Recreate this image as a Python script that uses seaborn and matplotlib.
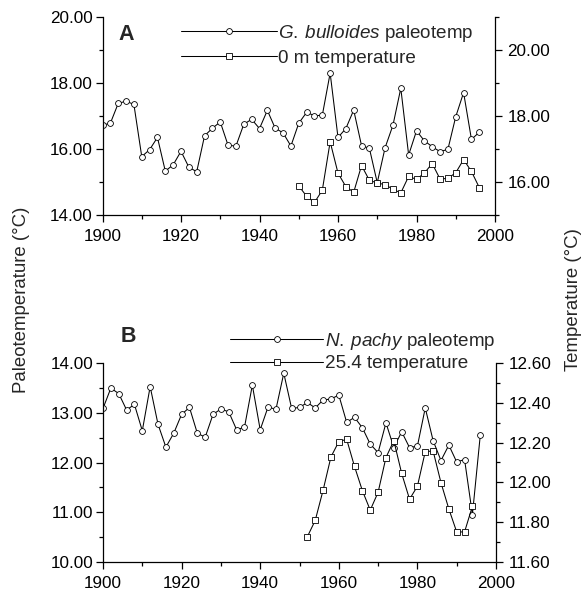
import numpy as np
import pandas as pd
import matplotlib
matplotlib.use("Agg")
import matplotlib.pyplot as plt
from matplotlib.ticker import MultipleLocator, FormatStrFormatter
from matplotlib.lines import Line2D
import seaborn as sns

# ---------------- data ----------------
years_paleo = list(range(1900, 1997, 2))
g_bulloides = [16.72, 16.78, 17.38, 17.45, 17.35, 15.77, 15.98, 16.35, 15.33, 15.52,
               15.93, 15.45, 15.31, 16.40, 16.63, 16.82, 16.11, 16.09, 16.75, 16.90,
               16.62, 17.17, 16.63, 16.49, 16.09, 16.78, 17.11, 17.01, 17.02, 18.30,
               16.35, 16.62, 17.18, 16.10, 16.02, 14.98, 16.04, 16.72, 17.84, 15.82,
               16.55, 16.25, 16.07, 15.92, 15.99, 16.98, 17.71, 16.29, 16.51]
years_0m = list(range(1950, 1997, 2))
temp_0m = [15.88, 15.57, 15.38, 15.75, 17.22, 16.27, 15.86, 15.69, 16.50, 16.05,
           15.97, 15.92, 15.78, 15.67, 16.17, 16.08, 16.27, 16.56, 16.09, 16.11,
           16.28, 16.68, 16.32, 15.83]

n_pachy = [13.09, 13.50, 13.39, 13.06, 13.17, 12.64, 13.53, 12.77, 12.31, 12.59,
           12.97, 13.11, 12.59, 12.51, 12.97, 13.08, 13.02, 12.66, 12.71, 13.56,
           12.66, 13.12, 13.07, 13.80, 13.09, 13.11, 13.21, 13.10, 13.26, 13.28,
           13.36, 12.81, 12.91, 12.70, 12.37, 12.20, 12.80, 12.30, 12.62, 12.30,
           12.33, 13.10, 12.44, 12.04, 12.35, 12.01, 12.06, 10.95, 12.55]
years_25m = list(range(1952, 1995, 2))
temp_25m = [11.726, 11.808, 11.96, 12.128, 12.205, 12.217, 12.08, 11.958, 11.86, 11.95,
            12.125, 12.21, 12.045, 11.915, 11.98, 12.155, 12.158, 11.998, 11.866, 11.75,
            11.75, 11.88]

panel_letters = ["A", "B"]
legend_a = [r"$\mathit{G.\:bulloides}$ paleotemp", "0 m temperature"]
legend_b = [r"$\mathit{N.\:pachy}$ paleotemp", "25.4 temperature"]
ylabel_left = "Paleotemperature (\u00b0C)"
ylabel_right = "Temperature (\u00b0C)"

# ---------------- style ----------------
sns.set_theme(style="ticks")
plt.rcParams["font.family"] = ["Liberation Sans", "DejaVu Sans"]
plt.rcParams["mathtext.fontset"] = "custom"
plt.rcParams["mathtext.it"] = "Liberation Sans:italic"
plt.rcParams["mathtext.rm"] = "Liberation Sans"
plt.rcParams["axes.linewidth"] = 0.9
for k in ["xtick.major.width", "ytick.major.width", "xtick.minor.width", "ytick.minor.width"]:
    plt.rcParams[k] = 0.9
plt.rcParams["xtick.color"] = "black"
plt.rcParams["ytick.color"] = "black"
plt.rcParams["axes.edgecolor"] = "black"

W, H = 587, 595
fig = plt.figure(figsize=(W / 100, H / 100), dpi=100)

TICK_FS = 12.3
LEG_FS = 13.6
LAB_FS = 13.4

line_kw = dict(color="black", linewidth=0.75, markersize=4.2,
               markerfacecolor="white", markeredgecolor="black",
               markeredgewidth=0.6)


def px_rect(l, r, t, b):
    return [l / W, 1 - b / H, (r - l) / W, (b - t) / H]


def style_axes(ax, ax2, ylim, yl_major, yl_minor, ylim2, yr_major, yr_minor):
    ax.set_xlim(1900, 2000)
    ax.xaxis.set_major_locator(MultipleLocator(20))
    ax.xaxis.set_minor_locator(MultipleLocator(10))
    ax.set_ylim(*ylim)
    ax.yaxis.set_major_locator(MultipleLocator(yl_major))
    ax.yaxis.set_minor_locator(MultipleLocator(yl_minor))
    ax.yaxis.set_major_formatter(FormatStrFormatter("%.2f"))
    ax2.set_ylim(*ylim2)
    ax2.yaxis.set_major_locator(MultipleLocator(yr_major))
    ax2.yaxis.set_minor_locator(MultipleLocator(yr_minor))
    ax2.yaxis.set_major_formatter(FormatStrFormatter("%.2f"))
    for a in (ax, ax2):
        a.spines["top"].set_visible(False)
        a.set_xlabel("")
        a.set_ylabel("")
        a.tick_params(which="major", length=5, labelsize=TICK_FS, direction="out")
        a.tick_params(which="minor", length=3, direction="out")
    ax.tick_params(axis="x", pad=5)
    ax.tick_params(axis="y", pad=2)
    ax2.tick_params(axis="y", pad=4)
    ax.spines["right"].set_visible(False)
    ax2.spines["left"].set_visible(False)
    ax2.spines["bottom"].set_visible(False)
    ax.patch.set_visible(False)
    ax2.patch.set_visible(False)


# ---------------- panel A ----------------
axA = fig.add_axes(px_rect(102.5, 495, 17, 215))
axA2 = axA.twinx()
sns.lineplot(x=years_paleo, y=g_bulloides, ax=axA, marker="o", **line_kw)
sns.lineplot(x=years_0m, y=temp_0m, ax=axA2, marker="s", **line_kw)
style_axes(axA, axA2, (14, 20), 2, 1, (15, 21), 2, 1)

# ---------------- panel B ----------------
axB = fig.add_axes(px_rect(103, 496, 363.3, 561.7))
axB2 = axB.twinx()
sns.lineplot(x=years_paleo, y=n_pachy, ax=axB, marker="o", **line_kw)
sns.lineplot(x=years_25m, y=temp_25m, ax=axB2, marker="s", **line_kw)
style_axes(axB, axB2, (10, 14), 1, 0.5, (11.6, 12.6), 0.2, 0.1)


# ---------------- legends ----------------
def handles():
    return [Line2D([], [], marker="o", **line_kw),
            Line2D([], [], marker="s", **line_kw)]


def make_legend(labels, x_left, y_top, hlen_px, spacing):
    return fig.legend(handles(), labels, loc="upper left",
                      bbox_to_anchor=(x_left / W, 1 - y_top / H),
                      bbox_transform=fig.transFigure,
                      frameon=False, fontsize=LEG_FS, borderpad=0, borderaxespad=0,
                      handlelength=hlen_px / (LEG_FS * 100 / 72),
                      handletextpad=0.08, labelspacing=spacing, numpoints=1)


make_legend(legend_a, 180.7, 23, 96, 0.28)
make_legend(legend_b, 230, 330.5, 93, 0.2)

# panel letters
fig.text(118 / W, 1 - 35 / H, panel_letters[0], fontsize=15.5, fontweight="bold",
         ha="left", va="center")
fig.text(121 / W, 1 - 337 / H, panel_letters[1], fontsize=15.5, fontweight="bold",
         ha="left", va="center")

# axis labels
fig.text(22 / W, 1 - 300 / H, ylabel_left, rotation=90, fontsize=LAB_FS,
         ha="center", va="center")
fig.text(574 / W, 1 - 300 / H, ylabel_right, rotation=90, fontsize=LAB_FS,
         ha="center", va="center")

fig.savefig("out.png", dpi=100, facecolor="white")
